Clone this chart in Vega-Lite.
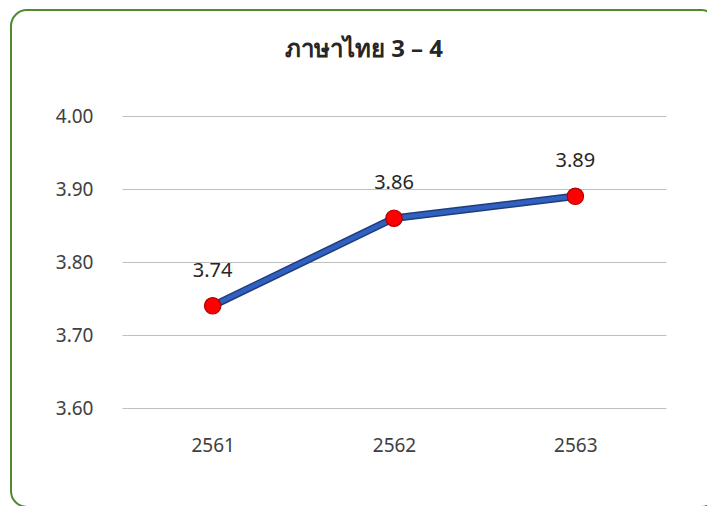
{
  "$schema": "https://vega.github.io/schema/vega-lite/v6.json",
  "autosize": {"type": "none"},
  "padding": {"left": 11, "top": 10, "right": 0, "bottom": 0},
  "width": 706,
  "height": 497,
  "background": "white",
  "config": {
    "view": {"stroke": "#4F8A2C", "strokeWidth": 2, "cornerRadius": 16, "fill": "white"},
    "font": "Noto Sans",
    "axis": {"labelFont": "Noto Sans", "labelColor": "#404040", "labelFontSize": 19}
  },
  "title": {
    "text": "ภาษาไทย 3 – 4",
    "anchor": "middle",
    "frame": "group",
    "orient": "top",
    "offset": -71,
    "baseline": "alphabetic",
    "fontSize": 24,
    "fontWeight": "bold",
    "color": "#262626",
    "font": "Noto Sans"
  },
  "data": {
    "values": [
      {"year": "2561", "score": 3.74},
      {"year": "2562", "score": 3.86},
      {"year": "2563", "score": 3.89}
    ]
  },
  "encoding": {
    "x": {
      "field": "year",
      "type": "ordinal",
      "scale": {"type": "point", "padding": 0.5, "range": [111, 655]},
      "axis": {
        "title": null,
        "labelAngle": 0,
        "ticks": false,
        "domain": false,
        "grid": false,
        "offset": -73,
        "labelPadding": 2
      }
    },
    "y": {
      "field": "score",
      "type": "quantitative",
      "scale": {"domain": [3.6, 4.0], "range": [398, 106], "zero": false, "nice": false},
      "axis": {
        "title": null,
        "values": [3.6, 3.7, 3.8, 3.9, 4.0],
        "format": ".2f",
        "ticks": false,
        "domain": false,
        "grid": true,
        "gridColor": "#BFBFBF",
        "gridWidth": 1,
        "offset": -84,
        "labelPadding": 2
      }
    }
  },
  "layer": [
    {"mark": {"type": "line", "color": "#1F3D7C", "strokeWidth": 7.5}},
    {"mark": {"type": "line", "color": "#3060C0", "strokeWidth": 4.5}},
    {"mark": {"type": "point", "filled": true, "fill": "#FF0000", "stroke": "#B00000", "strokeWidth": 1.2, "size": 270, "opacity": 1}},
    {
      "mark": {"type": "text", "dy": -29, "baseline": "alphabetic", "fontSize": 20, "color": "#262626", "font": "Noto Sans"},
      "encoding": {"text": {"field": "score", "type": "quantitative", "format": ".2f"}}
    }
  ]
}
